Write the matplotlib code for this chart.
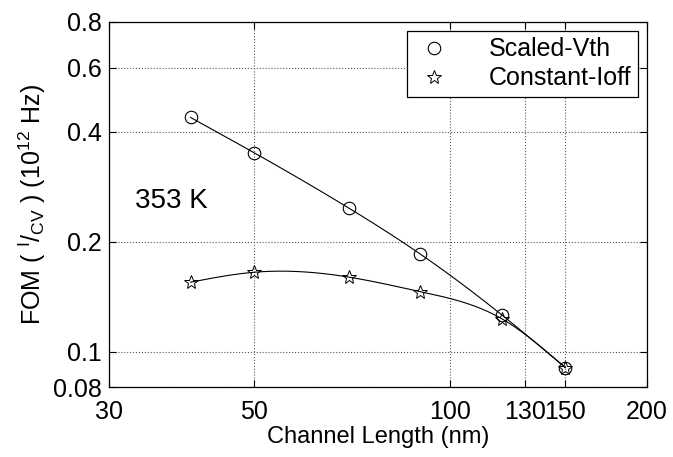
import numpy as np
import matplotlib
matplotlib.use("Agg")
import matplotlib.pyplot as plt
from matplotlib.ticker import FixedLocator, FixedFormatter, NullLocator

plt.rcParams['font.family'] = ['Liberation Sans', 'DejaVu Sans']
plt.rcParams['mathtext.default'] = 'regular'

# Channel lengths (nm) and FOM values (10^12 Hz) at 353 K
channel_length = [40, 50, 70, 90, 120, 150]
fom_scaled_vth = [0.438, 0.351, 0.247, 0.185, 0.126, 0.0905]
fom_constant_ioff = [0.155, 0.165, 0.160, 0.146, 0.123, 0.0905]

x_ticks = [30, 50, 100, 130, 150, 200]
x_tick_labels = ['30', '50', '100', '130', '150', '200']
y_ticks = [0.08, 0.1, 0.2, 0.4, 0.6, 0.8]
y_tick_labels = ['0.08', '0.1', '0.2', '0.4', '0.6', '0.8']


def natural_spline(x, y, n=200):
    """Natural cubic spline through (x, y), evaluated on n points."""
    x = np.asarray(x, float)
    y = np.asarray(y, float)
    k = len(x)
    h = np.diff(x)
    A = np.zeros((k, k))
    b = np.zeros(k)
    A[0, 0] = A[-1, -1] = 1.0
    for i in range(1, k - 1):
        A[i, i - 1] = h[i - 1]
        A[i, i] = 2 * (h[i - 1] + h[i])
        A[i, i + 1] = h[i]
        b[i] = 6 * ((y[i + 1] - y[i]) / h[i] - (y[i] - y[i - 1]) / h[i - 1])
    m = np.linalg.solve(A, b)
    xs = np.linspace(x[0], x[-1], n)
    idx = np.clip(np.searchsorted(x, xs) - 1, 0, k - 2)
    x0, x1 = x[idx], x[idx + 1]
    y0, y1 = y[idx], y[idx + 1]
    m0, m1 = m[idx], m[idx + 1]
    hh = x1 - x0
    t1 = x1 - xs
    t0 = xs - x0
    ys = (m0 * t1 ** 3 + m1 * t0 ** 3) / (6 * hh) \
        + (y0 / hh - m0 * hh / 6) * t1 + (y1 / hh - m1 * hh / 6) * t0
    return xs, ys


def smooth_loglog(x, y):
    lx, ly = natural_spline(np.log10(x), np.log10(y))
    return 10 ** lx, 10 ** ly


fig = plt.figure(figsize=(6.73, 4.57), dpi=100)
ax = fig.add_axes([0.162, 0.153, 0.799, 0.799])

ax.set_xscale('log')
ax.set_yscale('log')

sx, sy = smooth_loglog(channel_length, fom_scaled_vth)
ax.plot(sx, sy, color='black', lw=0.8)
sx, sy = smooth_loglog(channel_length, fom_constant_ioff)
ax.plot(sx, sy, color='black', lw=0.8)

ax.plot(channel_length, fom_scaled_vth, linestyle='none', marker='o',
        markersize=9, markerfacecolor='none', markeredgecolor='black',
        markeredgewidth=0.8, label='Scaled-Vth')
ax.plot(channel_length, fom_constant_ioff, linestyle='none', marker='*',
        markersize=10, markerfacecolor='none', markeredgecolor='black',
        markeredgewidth=0.7, label='Constant-Ioff')

ax.set_xlim(30, 200)
ax.set_ylim(0.08, 0.8)

ax.xaxis.set_major_locator(FixedLocator(x_ticks))
ax.xaxis.set_major_formatter(FixedFormatter(x_tick_labels))
ax.xaxis.set_minor_locator(NullLocator())
ax.yaxis.set_major_locator(FixedLocator(y_ticks))
ax.yaxis.set_major_formatter(FixedFormatter(y_tick_labels))
ax.yaxis.set_minor_locator(NullLocator())

ax.tick_params(axis='both', which='major', direction='in', length=5,
               width=0.8, top=True, right=True, labelsize=18)
ax.tick_params(axis='y', pad=5)
ax.tick_params(axis='x', pad=9)

ax.grid(True, which='major', linestyle=':', linewidth=0.8, color='0.35')

for s in ax.spines.values():
    s.set_linewidth(0.9)

ax.set_xlabel('Channel Length (nm)', fontsize=17, labelpad=2)
ax.set_ylabel(r'FOM ( $^{I}/_{CV}$ ) (10$^{12}$ Hz)', fontsize=18, labelpad=4)

ax.text(0.048, 0.51, '353 K', transform=ax.transAxes, fontsize=20,
        ha='left', va='center')

leg = ax.legend(loc='upper right', bbox_to_anchor=(0.983, 0.975),
                fontsize=18, frameon=True, fancybox=False, framealpha=1,
                edgecolor='black', handlelength=1.6, handletextpad=1.4,
                borderpad=0.25, labelspacing=0.2, borderaxespad=0)
leg.get_frame().set_linewidth(0.9)

fig.savefig('out.png', dpi=100)
